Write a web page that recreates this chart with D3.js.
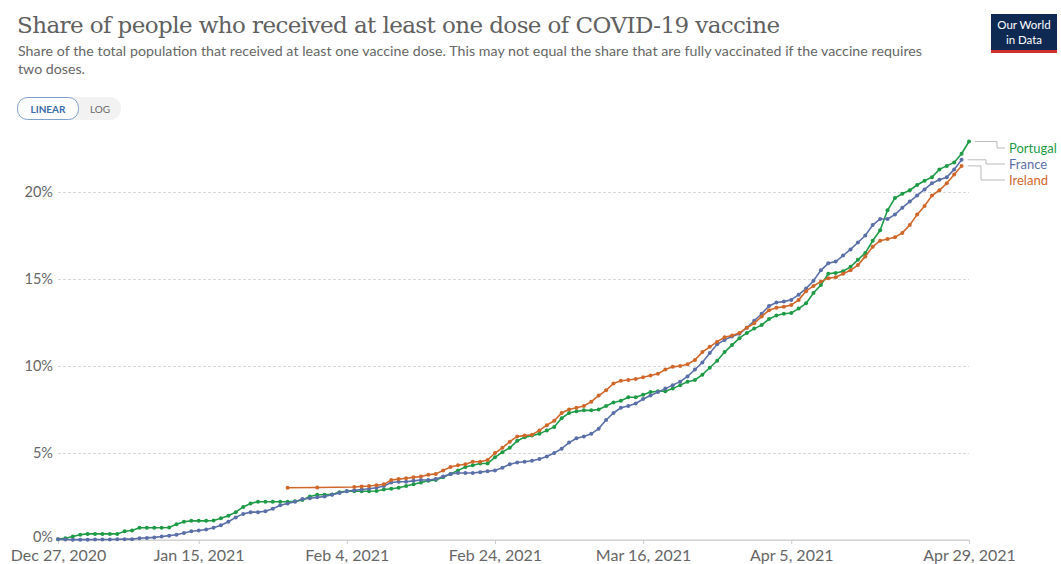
<!DOCTYPE html>
<html>
<head>
<meta charset="utf-8">
<script src="https://cdn.jsdelivr.net/npm/d3@7"></script>
<style>
  body { margin: 0; background: #fff; }
  svg { display: block; font-family: Lato, "Noto Sans", sans-serif; }
</style>
</head>
<body>
<div id="chart"></div>
<script>
// daily values, index 0 = Dec 27, 2020
const startDate = new Date(2020, 11, 27);

const portugal = [0.05,0.1,0.2,0.3,0.35,0.35,0.35,0.35,0.35,0.5,0.55,0.7,0.7,0.7,0.7,0.72,0.9,1.05,1.1,1.1,
  1.1,1.12,1.25,1.4,1.6,1.9,2.1,2.2,2.2,2.2,2.2,2.2,2.22,2.3,2.5,2.6,2.6,2.62,2.75,2.8,
  2.8,2.8,2.8,2.82,2.9,2.95,3.0,3.1,3.2,3.3,3.4,3.45,3.6,3.8,4.0,4.2,4.3,4.4,4.4,4.75,
  5.05,5.3,5.7,5.9,6.0,6.1,6.3,6.5,7.0,7.3,7.4,7.45,7.45,7.5,7.7,7.9,8.0,8.2,8.2,8.35,
  8.5,8.55,8.55,8.7,8.9,9.1,9.2,9.5,9.9,10.3,10.8,11.2,11.6,11.9,12.15,12.35,12.7,12.9,13.0,13.05,
  13.3,13.6,14.2,14.65,15.3,15.35,15.45,15.7,16.1,16.5,17.2,17.8,18.95,19.65,19.9,20.1,20.4,20.65,20.85,21.3,
  21.5,21.7,22.2,22.9];

const france = [0.05,0.03,0.02,0.02,0.02,0.03,0.03,0.03,0.04,0.05,0.05,0.1,0.12,0.15,0.2,0.25,0.3,0.4,0.5,0.55,
  0.6,0.7,0.85,1.05,1.3,1.5,1.6,1.6,1.65,1.8,2.0,2.1,2.2,2.35,2.4,2.45,2.5,2.6,2.7,2.8,
  2.85,2.9,2.95,3.0,3.1,3.3,3.35,3.35,3.4,3.45,3.45,3.5,3.65,3.8,3.85,3.85,3.85,3.9,3.95,4.0,
  4.15,4.35,4.45,4.5,4.55,4.65,4.8,5.0,5.25,5.6,5.85,5.95,6.1,6.4,6.9,7.3,7.6,7.7,7.85,8.1,
  8.3,8.5,8.7,8.9,9.1,9.4,9.8,10.2,10.75,11.25,11.5,11.7,11.85,12.2,12.6,13.0,13.45,13.65,13.7,13.8,
  14.1,14.45,14.9,15.5,15.9,16.0,16.35,16.7,17.1,17.5,18.1,18.45,18.45,18.7,19.1,19.45,19.8,20.15,20.5,20.7,
  20.85,21.3,21.85];

const ireland = [null,null,null,null,null,null,null,null,null,null,null,null,null,null,null,null,null,null,null,null,
  null,null,null,null,null,null,null,null,null,null,null,3.0,null,null,null,3.02,null,null,null,null,
  3.05,3.08,3.1,3.15,3.2,3.45,3.5,3.55,3.6,3.65,3.75,3.8,4.0,4.2,4.3,4.35,4.5,4.5,4.6,5.0,
  5.3,5.65,5.95,6.0,6.05,6.3,6.6,6.85,7.3,7.5,7.6,7.7,7.95,8.3,8.6,9.0,9.15,9.2,9.25,9.35,
  9.45,9.55,9.8,9.95,10.0,10.1,10.35,10.8,11.1,11.4,11.65,11.75,11.9,12.2,12.45,12.85,13.2,13.35,13.4,13.5,
  13.8,14.3,14.6,14.85,15.05,15.1,15.3,15.5,15.8,16.3,16.85,17.2,17.3,17.4,17.65,18.1,18.7,19.2,19.8,20.1,
  20.5,21.0,21.5];

const countries = ["Portugal", "France", "Ireland"];
const seriesValues = [portugal, france, ireland];
const colors = ["#1f9a47", "#5a6fa8", "#d0672a"];
const labelY = [148, 164, 180];
const elbowX = [997, 986, 981];

const xTicks = [new Date(2020, 11, 27), new Date(2021, 0, 15), new Date(2021, 1, 4),
  new Date(2021, 1, 24), new Date(2021, 2, 16), new Date(2021, 3, 5), new Date(2021, 3, 29)];
const yTicks = [0, 5, 10, 15, 20];

const width = 1061, height = 564;
const svg = d3.select("#chart").append("svg")
    .attr("width", width)
    .attr("height", height);

const x = d3.scaleTime()
    .domain([startDate, new Date(2021, 3, 29)])
    .range([58, 969]);

const y = d3.scaleLinear()
    .domain([0, 23])
    .range([540, 139.8]);

// header
svg.append("text")
    .attr("x", 17).attr("y", 33)
    .attr("font-family", "'DejaVu Serif', 'Liberation Serif', serif")
    .attr("font-size", 23)
    .attr("fill", "#606060")
    .attr("textLength", 763)
    .text("Share of people who received at least one dose of COVID-19 vaccine");

const sub = svg.append("text")
    .attr("font-size", 14.2)
    .attr("fill", "#666");
sub.append("tspan").attr("x", 18).attr("y", 56)
    .attr("textLength", 904)
    .text("Share of the total population that received at least one vaccine dose. This may not equal the share that are fully vaccinated if the vaccine requires");
sub.append("tspan").attr("x", 18).attr("y", 74).text("two doses.");

// logo
const logo = svg.append("g");
logo.append("rect").attr("x", 991).attr("y", 14).attr("width", 66).attr("height", 39).attr("fill", "#0f2a52");
logo.append("rect").attr("x", 991).attr("y", 50).attr("width", 66).attr("height", 3).attr("fill", "#d0312d");
logo.append("text").attr("x", 1024).attr("y", 29).attr("text-anchor", "middle")
    .attr("font-size", 11.5).attr("fill", "#fff").text("Our World");
logo.append("text").attr("x", 1024).attr("y", 44).attr("text-anchor", "middle")
    .attr("font-size", 11.5).attr("fill", "#fff").text("in Data");

// linear / log toggle
svg.append("rect").attr("x", 17).attr("y", 97).attr("width", 104).attr("height", 23)
    .attr("rx", 11).attr("fill", "#f2f2f2");
svg.append("rect").attr("x", 17.5).attr("y", 97.5).attr("width", 61).attr("height", 22)
    .attr("rx", 10).attr("fill", "#fff").attr("stroke", "#7fa0c8");
svg.append("text").attr("x", 48).attr("y", 113).attr("text-anchor", "middle")
    .attr("font-size", 10).attr("font-weight", "bold").attr("fill", "#3b6aa8").text("LINEAR");
svg.append("text").attr("x", 100).attr("y", 113).attr("text-anchor", "middle")
    .attr("font-size", 10).attr("fill", "#666").text("LOG");

// y grid and labels
const yAxis = svg.append("g")
    .attr("transform", "translate(58,0)")
    .call(d3.axisLeft(y).tickValues(yTicks).tickSize(-911).tickFormat(d => d + "%"));
yAxis.select(".domain").remove();
yAxis.selectAll(".tick line")
    .attr("stroke", "#d8d8d8")
    .attr("stroke-dasharray", d => d === 0 ? null : "3,2");
yAxis.selectAll(".tick text")
    .attr("x", -5)
    .attr("dy", d => d === 0 ? "0.1em" : "0.32em")
    .attr("font-size", 14.5)
    .attr("font-family", "Lato, sans-serif")
    .attr("fill", "#666");

// x axis
const xAxis = svg.append("g")
    .attr("transform", "translate(0,540)")
    .call(d3.axisBottom(x).tickValues(xTicks).tickSize(4).tickFormat(d3.timeFormat("%b %-d, %Y")));
xAxis.select(".domain").attr("stroke", "#ccc").attr("d", "M58,0H969");
xAxis.selectAll(".tick line").attr("stroke", "#ccc");
xAxis.selectAll(".tick text")
    .attr("y", 10)
    .attr("font-size", 16)
    .attr("font-family", "Lato, sans-serif")
    .attr("fill", "#666");

// lines
const line = d3.line()
    .x(d => x(d.date))
    .y(d => y(d.value));

seriesValues.forEach((vals, i) => {
  const pts = vals.map((v, k) => ({ date: d3.timeDay.offset(startDate, k), value: v }))
      .filter(d => d.value != null);
  const g = svg.append("g");
  g.append("path")
      .datum(pts)
      .attr("fill", "none")
      .attr("stroke", colors[i])
      .attr("stroke-width", 1.6)
      .attr("d", line);
  g.selectAll("circle")
      .data(pts)
      .join("circle")
      .attr("cx", d => x(d.date))
      .attr("cy", d => y(d.value))
      .attr("r", 2)
      .attr("fill", colors[i]);

  // legend connector + label
  const last = pts[pts.length - 1];
  const ex = x(last.date) + 6, ey = y(last.value);
  svg.append("path")
      .attr("fill", "none")
      .attr("stroke", "#bbb")
      .attr("d", `M${ex},${ey}H${elbowX[i]}V${labelY[i]}H1005`);
  svg.append("text")
      .attr("x", 1009).attr("y", labelY[i]).attr("dy", "0.35em")
      .attr("font-size", 13)
      .attr("fill", colors[i])
      .text(countries[i]);
});
</script>
</body>
</html>
